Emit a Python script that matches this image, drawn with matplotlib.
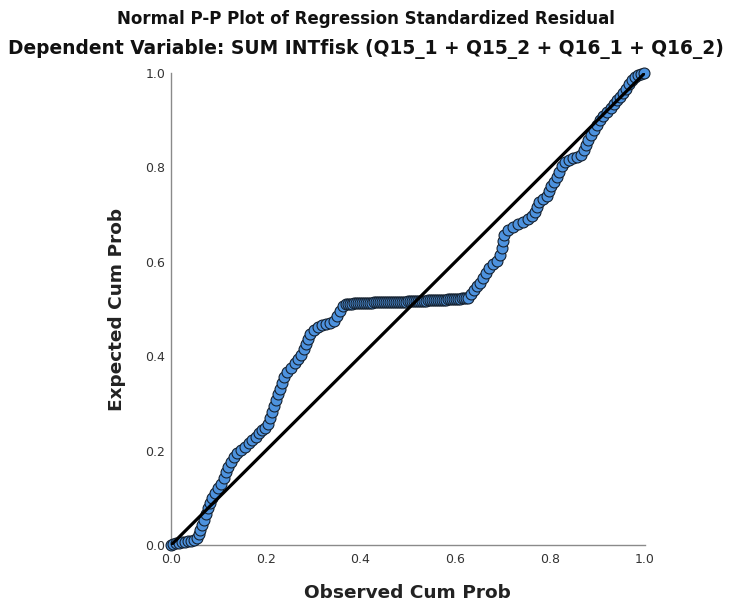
import matplotlib
matplotlib.use("Agg")
import matplotlib.pyplot as plt

# Observed cumulative probability (x) and expected cumulative probability (y)
obs_a = [0.000, 0.004, 0.011, 0.017, 0.023, 0.030, 0.036, 0.042, 0.049, 0.055,
         0.059, 0.061, 0.065, 0.070, 0.074, 0.078, 0.082, 0.086, 0.093, 0.099,
         0.105, 0.112, 0.116, 0.120, 0.127, 0.133, 0.139, 0.148, 0.156, 0.165,
         0.171, 0.179, 0.186, 0.192, 0.198, 0.205, 0.209, 0.213, 0.217, 0.222,
         0.226, 0.230, 0.234, 0.238, 0.245, 0.253, 0.262, 0.268, 0.274, 0.281,
         0.285, 0.289, 0.293, 0.302, 0.310, 0.319, 0.327, 0.335, 0.344, 0.350,
         0.357, 0.363, 0.369]
exp_a = [0.000, 0.002, 0.004, 0.004, 0.006, 0.006, 0.008, 0.008, 0.011, 0.015,
         0.023, 0.032, 0.042, 0.053, 0.066, 0.078, 0.089, 0.100, 0.110, 0.121,
         0.129, 0.142, 0.155, 0.165, 0.176, 0.186, 0.195, 0.201, 0.208, 0.216,
         0.222, 0.229, 0.237, 0.244, 0.248, 0.256, 0.269, 0.282, 0.294, 0.307,
         0.320, 0.331, 0.343, 0.356, 0.367, 0.375, 0.386, 0.394, 0.403, 0.415,
         0.426, 0.436, 0.447, 0.456, 0.462, 0.466, 0.468, 0.470, 0.475, 0.485,
         0.496, 0.506, 0.511]

obs_flat = [0.373, 0.378, 0.382, 0.386, 0.390, 0.395, 0.399, 0.403, 0.407, 0.411,
            0.416, 0.420, 0.424, 0.428, 0.432, 0.437, 0.441, 0.445, 0.449, 0.454,
            0.458, 0.462, 0.466, 0.470, 0.475, 0.479, 0.483, 0.487, 0.491, 0.496,
            0.500, 0.504, 0.508, 0.513, 0.517, 0.521, 0.525, 0.529, 0.534, 0.538,
            0.542, 0.546, 0.550, 0.555, 0.559, 0.563, 0.567, 0.572, 0.576, 0.580,
            0.584, 0.588, 0.593, 0.597, 0.601, 0.605, 0.609, 0.614, 0.618, 0.622]
exp_flat = [0.511, 0.511, 0.511, 0.512, 0.512, 0.512, 0.512, 0.512, 0.513, 0.513,
            0.513, 0.513, 0.513, 0.514, 0.514, 0.514, 0.514, 0.514, 0.514, 0.515,
            0.515, 0.515, 0.515, 0.515, 0.515, 0.516, 0.516, 0.516, 0.516, 0.516,
            0.517, 0.517, 0.517, 0.517, 0.517, 0.518, 0.518, 0.518, 0.518, 0.518,
            0.519, 0.519, 0.519, 0.519, 0.519, 0.520, 0.520, 0.520, 0.520, 0.520,
            0.521, 0.521, 0.521, 0.521, 0.522, 0.522, 0.522, 0.523, 0.523, 0.524]

obs_b = [0.627, 0.633, 0.639, 0.646, 0.652, 0.658, 0.665, 0.671, 0.679, 0.688,
         0.694, 0.698, 0.700, 0.703, 0.711, 0.722, 0.732, 0.743, 0.753, 0.762,
         0.768, 0.772, 0.776, 0.785, 0.793, 0.797, 0.802, 0.808, 0.814, 0.819,
         0.825, 0.831, 0.840, 0.848, 0.857, 0.865, 0.871, 0.876, 0.880, 0.886,
         0.892, 0.899, 0.905, 0.911, 0.920, 0.928, 0.935, 0.941, 0.947, 0.954,
         0.960, 0.966, 0.973, 0.979, 0.985, 0.992, 0.998]
exp_b = [0.523, 0.532, 0.540, 0.549, 0.555, 0.566, 0.576, 0.587, 0.595, 0.602,
         0.614, 0.629, 0.644, 0.657, 0.667, 0.674, 0.680, 0.684, 0.691, 0.697,
         0.706, 0.716, 0.727, 0.733, 0.739, 0.750, 0.761, 0.769, 0.780, 0.790,
         0.803, 0.811, 0.816, 0.820, 0.822, 0.826, 0.837, 0.847, 0.858, 0.869,
         0.879, 0.890, 0.900, 0.909, 0.917, 0.926, 0.934, 0.943, 0.949, 0.958,
         0.966, 0.977, 0.985, 0.992, 0.996, 0.998, 1.000]

observed = obs_a + obs_flat + obs_b
expected = exp_a + exp_flat + exp_b

ticks = [0.0, 0.2, 0.4, 0.6, 0.8, 1.0]
tick_labels = ["0.0", "0.2", "0.4", "0.6", "0.8", "1.0"]

fig = plt.figure(figsize=(7.31, 6.09), dpi=100)
ax = fig.add_axes([0.234, 0.105, 0.648, 0.775])

ax.scatter(observed, expected, s=62, facecolor="#4d92de", edgecolor="#15212f",
           linewidth=0.8, zorder=3, clip_on=False)
ax.plot([0, 1], [0, 1], color="black", linewidth=2.3, zorder=4, solid_capstyle="butt")

ax.set_xlim(0, 1)
ax.set_ylim(0, 1)
ax.set_xticks(ticks)
ax.set_xticklabels(tick_labels)
ax.set_yticks(ticks)
ax.set_yticklabels(tick_labels)
ax.tick_params(axis="both", length=0, labelsize=9, labelcolor="#333333")
ax.tick_params(axis="x", pad=6)
ax.tick_params(axis="y", pad=4)

for side in ["top", "right"]:
    ax.spines[side].set_visible(False)
for side in ["left", "bottom"]:
    ax.spines[side].set_color("#8a8a8a")
    ax.spines[side].set_linewidth(1.0)

ax.set_xlabel("Observed Cum Prob", fontsize=13.3, fontweight="bold", color="#222222", labelpad=13)
ax.set_ylabel("Expected Cum Prob", fontsize=13.3, fontweight="bold", color="#222222", labelpad=14)

fig.text(0.5, 0.968, "Normal P-P Plot of Regression Standardized Residual",
         ha="center", va="center", fontsize=12, fontweight="bold", color="#111111")
fig.text(0.5, 0.92, "Dependent Variable: SUM INTfisk (Q15_1 + Q15_2 + Q16_1 + Q16_2)",
         ha="center", va="center", fontsize=13.4, fontweight="bold", color="#111111")

fig.savefig("out.png", dpi=100, facecolor="white")
